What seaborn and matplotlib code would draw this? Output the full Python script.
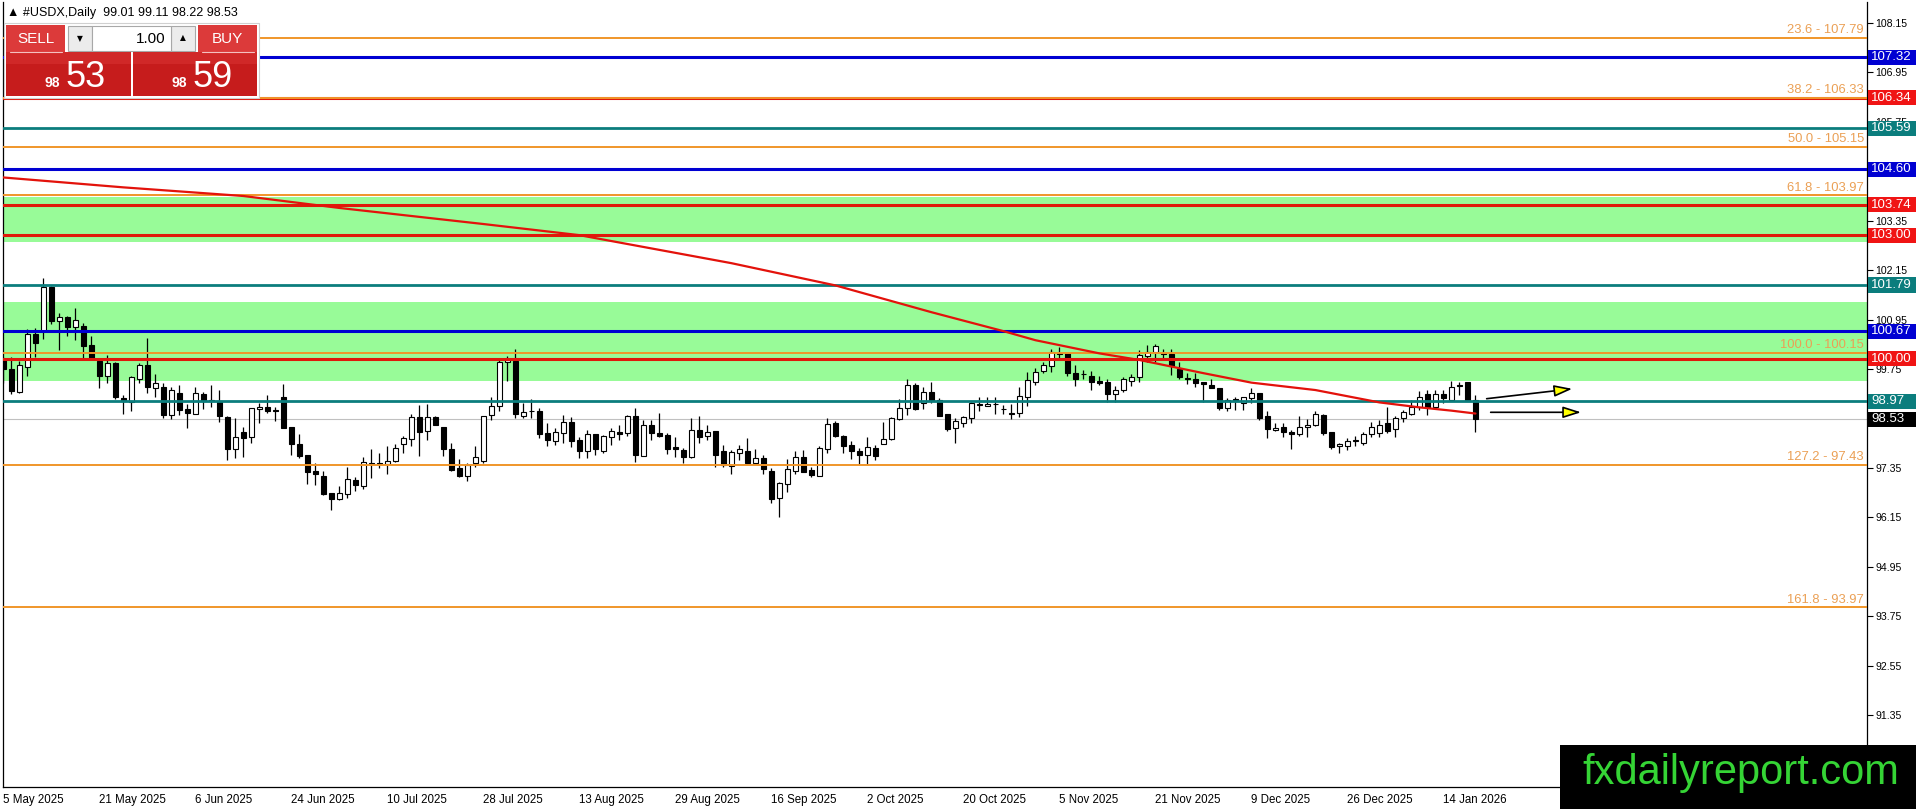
import numpy as np
import pandas as pd
import matplotlib
matplotlib.use('Agg')
import matplotlib.pyplot as plt
import matplotlib.transforms as mtransforms
from matplotlib.patches import Rectangle
import seaborn as sns

# ------------------------------ Daten ------------------------------
opens = [99.98, 99.74, 99.19, 99.79, 100.60, 100.68, 101.75, 100.92, 101.01, 100.76,
         100.79, 100.33, 99.95, 99.57, 99.89, 99.05, 98.96, 99.52, 99.84, 99.28,
         99.31, 98.64, 99.18, 98.77, 98.67, 99.14, 98.98, 98.98, 98.59, 97.81,
         98.23, 98.09, 98.77, 98.82, 98.75, 99.06, 98.34, 97.93, 97.66, 97.28,
         97.16, 96.75, 96.59, 96.71, 97.06, 96.90, 97.48, 97.46, 97.45, 97.53,
         97.92, 98.04, 98.59, 98.25, 98.58, 98.34, 97.80, 97.34, 97.16, 97.46,
         97.53, 98.63, 98.86, 99.91, 99.95, 98.60, 98.72, 98.73, 98.19, 98.01,
         98.19, 98.46, 98.03, 97.75, 98.17, 97.75, 98.09, 98.21, 98.19, 98.61,
         97.65, 98.38, 98.19, 98.14, 97.86, 97.79, 97.61, 98.27, 98.13, 98.25,
         97.76, 97.40, 97.71, 97.76, 97.48, 97.58, 97.27, 96.61, 96.95, 97.28,
         97.61, 97.30, 97.16, 97.80, 98.43, 98.12, 97.90, 97.76, 97.66, 97.83,
         97.92, 98.05, 98.53, 98.80, 99.36, 98.92, 99.20, 99.00, 98.65, 98.31,
         98.43, 98.55, 98.90, 98.85, 98.89, 98.78, 98.69, 98.69, 99.08, 99.44,
         99.71, 99.83, 100.13, 100.13, 99.66, 99.64, 99.58, 99.45, 99.44, 99.14,
         99.23, 99.47, 99.55, 100.07, 100.17, 100.13, 100.11, 99.74, 99.53, 99.50,
         99.44, 99.36, 99.28, 98.81, 99.02, 98.93, 99.04, 99.18, 98.61, 98.27,
         98.35, 98.23, 98.17, 98.34, 98.39, 98.63, 98.21, 97.87, 97.87, 98.00,
         97.95, 98.17, 98.19, 98.43, 98.29, 98.55, 98.67, 98.82, 99.14, 98.84,
         99.14, 99.01, 99.36, 99.43, 99.01]
highs = [100.05, 100.05, 99.95, 100.71, 100.74, 101.96, 101.77, 101.12, 101.04, 101.23,
         100.86, 100.55, 99.97, 100.09, 99.91, 99.12, 99.58, 99.89, 100.50, 99.63,
         99.40, 99.31, 99.36, 98.90, 99.31, 99.19, 99.36, 99.23, 98.60, 98.55,
         98.35, 98.80, 98.93, 99.12, 98.82, 99.39, 98.35, 98.17, 97.66, 97.46,
         97.28, 96.75, 96.91, 97.38, 97.14, 97.62, 97.80, 97.70, 97.88, 97.93,
         98.12, 98.66, 98.88, 98.90, 98.60, 98.35, 97.95, 97.56, 97.48, 97.88,
         98.62, 99.08, 99.96, 100.07, 100.23, 98.93, 99.02, 98.80, 98.43, 98.31,
         98.64, 98.58, 98.09, 98.27, 98.17, 98.15, 98.31, 98.39, 98.63, 98.80,
         98.51, 98.51, 98.68, 98.19, 98.09, 97.84, 98.55, 98.61, 98.39, 98.25,
         97.90, 97.79, 97.90, 98.07, 97.81, 97.66, 97.34, 97.02, 97.56, 97.76,
         97.78, 97.38, 97.88, 98.55, 98.50, 98.15, 98.01, 97.83, 98.09, 97.91,
         98.47, 98.59, 99.02, 99.52, 99.40, 99.31, 99.43, 99.04, 98.65, 98.55,
         98.61, 98.96, 99.08, 99.08, 99.06, 98.88, 98.90, 99.32, 99.69, 99.78,
         99.93, 100.23, 100.29, 100.13, 99.85, 99.73, 99.70, 99.58, 99.52, 99.34,
         99.56, 99.63, 100.20, 100.33, 100.36, 100.23, 100.23, 99.93, 99.65, 99.65,
         99.44, 99.52, 99.28, 99.04, 99.08, 99.08, 99.28, 99.18, 98.73, 98.43,
         98.45, 98.27, 98.61, 98.53, 98.72, 98.67, 98.21, 97.95, 98.07, 98.12,
         98.23, 98.47, 98.51, 98.84, 98.61, 98.76, 99.00, 99.22, 99.24, 99.24,
         99.24, 99.46, 99.44, 99.44, 99.11]
lows = [99.42, 99.14, 99.18, 99.57, 100.05, 100.47, 100.84, 100.21, 100.54, 100.45,
        100.01, 99.99, 99.30, 99.40, 99.02, 98.65, 98.72, 99.40, 99.18, 99.08,
        98.55, 98.53, 98.63, 98.31, 98.66, 98.77, 98.82, 98.47, 97.54, 97.58,
        97.62, 97.96, 98.43, 98.69, 98.50, 98.31, 97.66, 97.60, 96.95, 96.94,
        96.69, 96.32, 96.57, 96.61, 96.80, 96.83, 97.11, 97.34, 97.20, 97.50,
        97.72, 97.87, 97.64, 98.03, 98.38, 97.64, 97.28, 97.14, 97.04, 97.38,
        97.46, 98.51, 98.72, 99.47, 98.55, 98.55, 98.55, 98.08, 97.89, 97.91,
        97.96, 97.85, 97.58, 97.58, 97.66, 97.72, 97.91, 98.03, 98.13, 97.50,
        97.64, 98.03, 98.11, 97.68, 97.62, 97.48, 97.58, 97.96, 98.03, 97.38,
        97.38, 97.20, 97.54, 97.45, 97.45, 97.20, 96.51, 96.17, 96.77, 97.20,
        97.26, 97.14, 97.16, 97.70, 98.09, 97.72, 97.57, 97.45, 97.45, 97.54,
        97.92, 98.03, 98.51, 98.63, 98.76, 98.78, 98.93, 98.62, 98.25, 97.96,
        98.34, 98.45, 98.74, 98.85, 98.66, 98.67, 98.53, 98.58, 98.85, 99.36,
        99.65, 99.67, 100.03, 99.58, 99.34, 99.50, 99.24, 99.36, 98.96, 98.96,
        99.20, 99.35, 99.44, 99.93, 99.93, 100.03, 99.61, 99.52, 99.39, 99.32,
        98.96, 99.28, 98.76, 98.72, 98.76, 98.76, 98.92, 98.51, 98.08, 98.25,
        98.09, 97.81, 98.12, 98.11, 98.37, 98.15, 97.80, 97.70, 97.79, 97.87,
        97.91, 98.09, 98.09, 98.19, 98.11, 98.47, 98.63, 98.76, 98.63, 98.80,
        98.92, 99.00, 99.12, 98.98, 98.22]
closes = [99.74, 99.22, 99.86, 100.60, 100.37, 101.75, 100.92, 101.02, 100.78, 100.93,
          100.31, 100.01, 99.57, 99.89, 99.06, 98.98, 99.55, 99.84, 99.31, 99.40,
          98.64, 99.24, 98.76, 98.69, 99.16, 98.98, 99.01, 98.60, 97.82, 98.09,
          98.08, 98.80, 98.84, 98.72, 98.72, 98.33, 97.92, 97.64, 97.24, 97.20,
          96.72, 96.59, 96.73, 97.07, 96.94, 97.50, 97.45, 97.45, 97.53, 97.83,
          98.07, 98.59, 98.23, 98.59, 98.39, 97.80, 97.30, 97.15, 97.42, 97.62,
          98.62, 98.86, 99.91, 99.97, 98.65, 98.70, 98.74, 98.17, 98.03, 98.21,
          98.46, 98.01, 97.75, 98.17, 97.80, 98.13, 98.25, 98.18, 98.61, 97.66,
          98.38, 98.19, 98.13, 97.82, 97.80, 97.62, 98.27, 98.09, 98.23, 97.66,
          97.42, 97.73, 97.81, 97.48, 97.58, 97.32, 96.59, 96.98, 97.32, 97.61,
          97.26, 97.18, 97.83, 98.42, 98.13, 97.89, 97.77, 97.66, 97.85, 97.65,
          98.05, 98.55, 98.80, 99.36, 98.78, 99.20, 99.00, 98.62, 98.29, 98.50,
          98.58, 98.92, 98.87, 98.90, 98.91, 98.77, 98.67, 99.10, 99.48, 99.67,
          99.85, 100.16, 100.11, 99.65, 99.52, 99.63, 99.43, 99.42, 99.14, 99.24,
          99.51, 99.55, 100.09, 100.17, 100.32, 100.12, 99.82, 99.55, 99.51, 99.42,
          99.39, 99.28, 98.81, 99.01, 98.98, 99.06, 99.18, 98.55, 98.29, 98.33,
          98.23, 98.17, 98.35, 98.39, 98.67, 98.20, 97.85, 97.93, 98.00, 98.02,
          98.17, 98.34, 98.39, 98.25, 98.55, 98.70, 98.84, 99.08, 98.84, 99.14,
          99.04, 99.31, 99.34, 99.00, 98.53]

# Handelstage (ohne 25.12. und 01.01.)
dates = pd.bdate_range('2025-05-05', '2026-01-20')
dates = dates.drop(pd.to_datetime(['2025-12-25', '2026-01-01']))

# gleitender Durchschnitt (rote Linie), Stützpunkte
ma_bars = [0, 15, 30, 42, 60, 72, 91, 104, 116, 125, 129, 137, 142, 146, 150, 156, 164, 172, 177, 181, 184]
ma_values = [104.40, 104.16, 103.95, 103.66, 103.27, 103.00, 102.32, 101.78, 101.13, 100.67, 100.45,
             100.13, 99.97, 99.81, 99.65, 99.42, 99.24, 98.94, 98.82, 98.74, 98.67]

fib_levels = [107.79, 106.33, 105.15, 103.97, 100.15, 97.43, 93.97]
fib_names = ['23.6', '38.2', '50.0', '61.8', '100.0', '127.2', '161.8']
blue_levels = [107.32, 104.60, 100.67]
red_levels = [106.34, 103.74, 103.00, 100.00]
teal_levels = [105.59, 101.79, 98.97]
bid = 98.53
ask = 98.59
zones = [(99.47, 101.37), (102.84, 103.92)]
y_ticks = [108.15, 106.95, 105.75, 104.55, 103.35, 102.15, 100.95, 99.75, 98.55,
           97.35, 96.15, 94.95, 93.75, 92.55, 91.35]
hidden_ticks = [104.55, 98.55]   # liegen unter den Preisboxen
header = '#USDX,Daily  99.01 99.11 98.22 98.53'
arrow_starts = [(185.4, 99.03), (185.9, 98.70)]
arrow_ends = [(196.1, 99.27), (197.2, 98.70)]

# Farben
C_ORANGE = '#f0962a'
C_FIBTXT = '#eba055'
C_BLUE = '#0000d2'
C_RED = '#e0180a'
C_TEAL = '#0b7d7d'
C_GREEN = '#98fb98'

# ---------------------------------Plot bauen-------------------------------------
sns.set_style('white')
plt.rcParams['font.family'] = ['Liberation Sans', 'DejaVu Sans']

df = pd.DataFrame({'bar': np.arange(len(closes)), 'open': opens, 'high': highs,
                   'low': lows, 'close': closes})
df['up'] = df['close'] >= df['open']
df['bottom'] = df[['open', 'close']].min(axis=1)
df['height'] = (df['close'] - df['open']).abs().clip(lower=0.01)

W, H = 1916, 809
fig = plt.figure(figsize=(W / 100, H / 100), dpi=100)
ax = fig.add_axes([2.5 / W, 1 - 787 / H, (1866.7 - 2.5) / W, (787 - 2) / H])
ax.set_xlim(-0.1, 232.9)
ax.set_ylim(89.605, 108.659)

for lo, hi in zones:
    ax.axhspan(lo, hi, color=C_GREEN, lw=0, zorder=0.5)

ax.vlines(df['bar'], df['low'], df['high'], color='black', lw=0.9, zorder=2)
ax.bar(df['bar'], df['height'], bottom=df['bottom'], width=0.6,
       color=np.where(df['up'], 'white', 'black'), edgecolor='black', linewidth=0.8, zorder=2.2)

# horizontale Linien
ax.axhline(bid, color='#c0c0c0', lw=0.8, zorder=1.5)
for v in red_levels:
    ax.axhline(v, color=C_RED, lw=2.2, zorder=3)
for v in blue_levels:
    ax.axhline(v, color=C_BLUE, lw=2.2, zorder=3)
for v in teal_levels:
    ax.axhline(v, color=C_TEAL, lw=2.0, zorder=3)
for v in fib_levels:
    ax.axhline(v, color=C_ORANGE, lw=1.4, zorder=3.1)

sns.lineplot(x=ma_bars, y=ma_values, ax=ax, color='#e3120b', linewidth=1.6, zorder=3.5)

blend = mtransforms.blended_transform_factory(ax.transAxes, ax.transData)
for name, v in zip(fib_names, fib_levels):
    ax.annotate(f'{name} - {v:.2f}', xy=(0.9985, v), xycoords=blend, xytext=(0, 1.2),
                textcoords='offset points', ha='right', va='bottom', fontsize=9.4,
                color=C_FIBTXT, zorder=4)

# Preisbeschriftungen rechts
boxes = [(v, C_BLUE) for v in blue_levels] + [(v, '#f01414') for v in red_levels] + \
        [(v, C_TEAL) for v in teal_levels] + [(bid, 'black')]
for v, col in boxes:
    ax.add_patch(Rectangle((1.0005, v - 0.185), 0.03, 0.37, transform=blend, fc=col, ec='none',
                           clip_on=False, zorder=5))
    ax.text(1.0025, v, f'{v:.2f}', transform=blend, ha='left', va='center', fontsize=9.5,
            color='white', zorder=6, clip_on=False)

for (x0, y0), (x1, y1) in zip(arrow_starts, arrow_ends):
    ax.annotate('', xy=(x1, y1), xytext=(x0, y0),
                arrowprops=dict(arrowstyle='-|>,head_length=1.1,head_width=0.35', mutation_scale=10,
                                facecolor='yellow', edgecolor='black', lw=1.2,
                                shrinkA=0, shrinkB=0), zorder=6)

ax.yaxis.tick_right()
ax.set_yticks(y_ticks)
ax.set_yticklabels(['' if v in hidden_ticks else f'{v:.2f}' for v in y_ticks])
ax.tick_params(axis='y', length=4, width=0.8, pad=2, labelsize=7.6, colors='black', direction='out')

pos = list(range(0, len(dates), 12))
ax.set_xticks(pos)
ax.set_xticklabels([f'{dates[i].day} {dates[i].strftime("%b")} {dates[i].year}' for i in pos], ha='left')
ax.tick_params(axis='x', length=4, width=0.8, pad=1, labelsize=8.3, colors='black', direction='out')
ax.set_xlabel('')
ax.set_ylabel('')
for s in ['left', 'right', 'bottom']:
    ax.spines[s].set_color('black')
    ax.spines[s].set_linewidth(0.9)
ax.spines['top'].set_visible(False)

# ------------------ Overlay: Kopfzeile, Handelsfeld, Logo ------------------
ov = fig.add_axes([0, 0, 1, 1], zorder=10)
ov.set_xlim(0, W)
ov.set_ylim(H, 0)
ov.axis('off')
ov.patch.set_visible(False)

ov.text(7, 13, '\u25b2 ' + header, ha='left', va='center', fontsize=9, color='black')

ov.add_patch(Rectangle((4, 23), 255, 75, fc='white', ec='#d0d0d0', lw=0.8))
ov.add_patch(Rectangle((6, 25), 59, 27, fc='#dc3a3a', ec='none'))
ov.add_patch(Rectangle((198, 25), 59, 27, fc='#dc3a3a', ec='none'))
ov.plot([10, 62], [51.5, 51.5], color='#f4c0c0', lw=0.8)
ov.plot([202, 254], [51.5, 51.5], color='#f4c0c0', lw=0.8)
ov.text(35.5, 38.5, 'SELL', ha='center', va='center', fontsize=11, color='white')
ov.text(227, 38.5, 'BUY', ha='center', va='center', fontsize=11, color='white')
for x0 in [68, 171]:
    ov.add_patch(Rectangle((x0, 26), 24, 25, fc='#ececec', ec='#a8a8a8', lw=0.8))
ov.add_patch(Rectangle((92, 26), 79, 25, fc='white', ec='#a8a8a8', lw=0.8))
ov.text(80, 39, '\u25bc', ha='center', va='center', fontsize=5.5, color='black',
        family=['DejaVu Sans'])
ov.text(183, 38, '\u25b2', ha='center', va='center', fontsize=5.5, color='black',
        family=['DejaVu Sans'])
ov.text(166, 38.5, '1.00', ha='right', va='center', fontsize=11, color='black')

ov.add_patch(Rectangle((6, 52), 125, 44, fc='#c61c1c', ec='none'))
ov.add_patch(Rectangle((133, 52), 124, 44, fc='#c61c1c', ec='none'))
ov.add_patch(Rectangle((6, 52), 125, 12, fc='#d02828', ec='none'))
ov.add_patch(Rectangle((133, 52), 124, 12, fc='#d02828', ec='none'))
bid_s, ask_s = f'{bid:.2f}', f'{ask:.2f}'
ov.text(45, 87, bid_s[:2], ha='left', va='baseline', fontsize=10, fontweight='bold', color='white')
ov.text(66, 87, bid_s[3:], ha='left', va='baseline', fontsize=26, color='white')
ov.text(172, 87, ask_s[:2], ha='left', va='baseline', fontsize=10, fontweight='bold', color='white')
ov.text(193, 87, ask_s[3:], ha='left', va='baseline', fontsize=26, color='white')

ov.add_patch(Rectangle((1560, 745), 360, 70, fc='black', ec='none'))
ov.text(1741, 784, 'fxdailyreport.com', ha='center', va='baseline', fontsize=30, color='#35d435')

fig.savefig('out.png', dpi=100)
